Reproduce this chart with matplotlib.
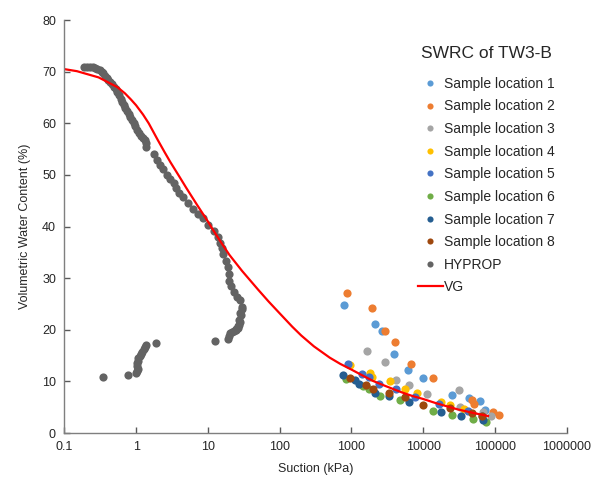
import matplotlib
matplotlib.use("Agg")
import matplotlib.pyplot as plt
from matplotlib.ticker import FixedLocator, FixedFormatter, NullLocator

plt.rcParams['font.family'] = ['Liberation Sans', 'DejaVu Sans']

# ---------------- data ----------------
loc1_x = [800, 2100, 2640, 3870, 6200, 10000, 25300, 43500, 62000, 73000]
loc1_y = [24.9, 21.1, 19.8, 15.3, 12.3, 10.7, 7.3, 6.7, 6.2, 4.5]

loc2_x = [875, 1950, 2950, 4070, 6800, 13700, 48000, 51500, 95000, 115000]
loc2_y = [27.1, 24.2, 19.8, 17.7, 13.4, 10.6, 6.4, 5.6, 4.1, 3.5]

loc3_x = [1660, 2960, 4150, 6300, 11200, 31600, 32300, 69000, 87000]
loc3_y = [15.9, 13.8, 10.3, 9.3, 7.6, 8.4, 5.0, 4.1, 3.4]

loc4_x = [960, 1810, 1940, 3480, 5500, 8100, 17800, 23800, 37000]
loc4_y = [13.2, 11.6, 10.9, 10.1, 8.5, 7.7, 6.1, 5.4, 4.6]

loc5_x = [890, 1410, 1740, 2450, 4240, 7800, 16600, 41600, 66000]
loc5_y = [13.4, 11.4, 10.9, 9.5, 8.5, 7.0, 5.6, 4.3, 3.3]

loc6_x = [830, 1470, 1740, 2510, 4680, 13500, 25100, 50000, 74000]
loc6_y = [10.4, 9.1, 8.5, 7.2, 6.4, 4.3, 3.5, 2.8, 2.1]

loc7_x = [760, 1130, 1260, 2130, 3390, 6300, 17900, 34000, 69000]
loc7_y = [11.2, 10.3, 9.5, 7.8, 7.2, 6.1, 4.1, 3.3, 2.5]

loc8_x = [960, 1620, 2000, 3390, 5600, 9800, 23800, 48000, 67000]
loc8_y = [10.7, 9.4, 8.5, 7.8, 7.0, 5.4, 4.8, 3.9, 3.3]

hyprop_x = [0.19, 0.21, 0.23, 0.25, 0.27, 0.29, 0.31, 0.33, 0.35, 0.37, 0.39, 0.41,
            0.43, 0.46, 0.49, 0.52, 0.55, 0.58, 0.61, 0.64, 0.67, 0.71, 0.75, 0.79,
            0.83, 0.88, 0.93, 0.98, 1.04, 1.10, 1.17, 1.25, 1.33, 1.38, 1.36,
            1.75, 1.95, 2.17, 2.4, 2.7, 3.0, 3.33, 3.6, 3.9, 4.5, 5.3, 6.2, 7.3,
            8.5, 10.1, 12.2, 14.0, 14.8, 15.6, 16.4, 17.9, 18.8, 19.5, 19.9, 20.9,
            22.9, 25.5, 28.0, 29.8, 29.5, 28.8, 28.0, 27.8, 27.3, 27.0, 26.7, 26.0,
            25.0, 24.3, 23.0, 21.5, 20.5, 20.0, 19.3, 12.7,
            0.346, 0.76, 1.0, 1.02, 1.05, 1.04, 1.03, 1.06, 1.08, 1.12, 1.17, 1.22,
            1.27, 1.32, 1.38, 1.90]
hyprop_y = [70.9, 71.0, 71.0, 70.9, 70.8, 70.6, 70.3, 70.0, 69.7, 69.2, 68.8, 68.4,
            68.0, 67.6, 67.1, 66.6, 66.0, 65.4, 64.8, 64.2, 63.6, 63.0, 62.4, 61.8,
            61.2, 60.6, 60.0, 59.4, 58.8, 58.2, 57.6, 57.2, 56.8, 56.2, 55.4,
            54.1, 52.9, 51.9, 51.1, 50.0, 49.2, 48.4, 47.4, 46.6, 45.7, 44.6, 43.5, 42.5,
            41.7, 40.3, 39.2, 38.0, 36.9, 35.8, 34.7, 33.4, 32.2, 30.8, 29.5, 28.4,
            27.4, 26.4, 25.8, 24.5, 24.0, 22.8, 23.2, 21.5, 21.9, 20.9, 20.7, 20.4,
            20.1, 20.0, 19.8, 19.5, 19.3, 18.8, 18.3, 17.9,
            10.8, 11.2, 11.6, 12.0, 12.5, 13.0, 13.5, 14.0, 14.5, 15.0, 15.4, 15.8,
            16.2, 16.6, 17.0, 17.5]

vg_x = [0.1, 0.15, 0.2, 0.3, 0.4, 0.55, 0.7, 0.85, 1.0, 1.25, 1.5, 2.0, 2.5, 3.0, 4.0,
        5.0, 7.0, 10, 12, 15, 20, 30, 50, 70, 100, 150, 200, 300, 500, 700,
        1000, 1500, 2000, 3000, 5000, 7000, 10000, 15000, 20000, 30000, 50000, 80000]
vg_y = [70.5, 70.1, 69.6, 68.9, 68.0, 67.0, 65.8, 64.6, 63.5, 61.7, 60.0, 56.8, 54.4,
        52.5, 49.7, 47.5, 44.3, 41.0, 39.2, 37.1, 34.5, 31.4, 27.8, 25.5, 23.2, 20.6,
        18.9, 16.8, 14.6, 13.4, 12.3, 11.0, 10.1, 9.1, 7.9, 7.2, 6.6, 5.8, 5.3, 4.6,
        3.9, 3.3]

x_ticks = [0.1, 1, 10, 100, 1000, 10000, 100000, 1000000]
x_tick_labels = ['0.1', '1', '10', '100', '1000', '10000', '100000', '1000000']
y_ticks = [0, 10, 20, 30, 40, 50, 60, 70, 80]

samples = [
    ('Sample location 1', loc1_x, loc1_y, '#5B9BD5'),
    ('Sample location 2', loc2_x, loc2_y, '#ED7D31'),
    ('Sample location 3', loc3_x, loc3_y, '#A5A5A5'),
    ('Sample location 4', loc4_x, loc4_y, '#FFC000'),
    ('Sample location 5', loc5_x, loc5_y, '#4472C4'),
    ('Sample location 6', loc6_x, loc6_y, '#70AD47'),
    ('Sample location 7', loc7_x, loc7_y, '#255E91'),
    ('Sample location 8', loc8_x, loc8_y, '#9E480E'),
]

# ---------------- figure ----------------
fig = plt.figure(figsize=(6.01, 4.78), dpi=100)
ax = fig.add_axes([0.107, 0.094, 0.836, 0.864])

ms = 5.9
for name, xs, ys, col in samples:
    ax.plot(xs, ys, linestyle='none', marker='o', markersize=ms,
            markerfacecolor=col, markeredgecolor=col, markeredgewidth=0, label=name)
ax.plot(hyprop_x, hyprop_y, linestyle='none', marker='o', markersize=ms,
        markerfacecolor='#636363', markeredgecolor='#636363', markeredgewidth=0,
        label='HYPROP')
ax.plot(vg_x, vg_y, color='#FF0000', linewidth=1.6, label='VG')

ax.set_xscale('log')
ax.set_xlim(0.1, 1000000)
ax.set_ylim(0, 80)
ax.xaxis.set_major_locator(FixedLocator(x_ticks))
ax.xaxis.set_major_formatter(FixedFormatter(x_tick_labels))
ax.xaxis.set_minor_locator(NullLocator())
ax.set_yticks(y_ticks)

for s in ['top', 'right']:
    ax.spines[s].set_visible(False)
for s in ['left', 'bottom']:
    ax.spines[s].set_color('#7f7f7f')
    ax.spines[s].set_linewidth(1.0)

ax.tick_params(axis='both', direction='in', length=4, width=1, color='#595959',
               labelsize=9, labelcolor='#262626', pad=6)

ax.set_xlabel('Suction (kPa)', fontsize=9, color='#262626', labelpad=7)
ax.set_ylabel('Volumetric Water Content (%)', fontsize=9, color='#262626', labelpad=8)

leg = ax.legend(loc='upper left', bbox_to_anchor=(0.692, 0.950), frameon=False,
                fontsize=10, title='SWRC of TW3-B', title_fontsize=12.5,
                markerscale=0.75, handlelength=1.8, handletextpad=0.12,
                labelspacing=0.62, borderaxespad=0)
leg._legend_box.sep = leg._legend_box.sep + 5
for t in leg.get_texts():
    t.set_color('#262626')
leg.get_title().set_color('#262626')

fig.savefig('out.png', dpi=100)
